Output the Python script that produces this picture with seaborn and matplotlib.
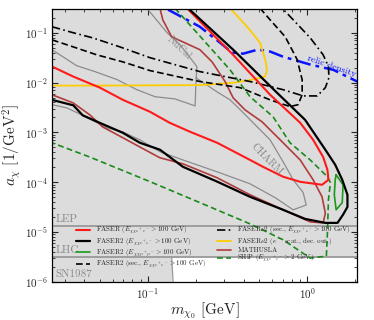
import matplotlib
matplotlib.use("Agg")
import matplotlib.pyplot as plt
import pandas as pd
import seaborn as sns

# excluded regions (grey) and their edges
lep_limit = 1.35e-5
lhc_limit = 3.2e-6
sn1987_m = [0.141, 0.144]
sn1987_a = [3.2e-6, 1.0e-6]

# FASER (red)
faser_m = [0.176, 0.343, 0.585, 0.904, 1.09, 1.26, 1.34, 1.36, 1.24, 0.904, 0.706, 0.528,
           0.438, 0.272, 0.184, 0.137, 0.103, 0.0697, 0.050, 0.034, 0.025]
faser_a = [0.31, 0.036, 5.7e-3, 1.56e-3, 7.1e-4, 3.2e-4, 1.78e-4, 1.12e-4, 8.9e-5, 1.02e-4, 1.29e-4, 2.04e-4,
           2.8e-4, 6.2e-4, 1.03e-3, 1.56e-3, 2.6e-3, 4.5e-3, 7.9e-3, 1.32e-2, 2.1e-2]

# FASER2 (black)
faser2_m = [0.179, 0.343, 0.647, 0.97, 1.30, 1.50, 1.66, 1.79, 1.79, 1.68, 1.55, 1.30, 0.97, 0.706,
            0.438, 0.272, 0.166, 0.119, 0.089, 0.0697, 0.050, 0.039, 0.034, 0.025]
faser2_a = [0.31, 0.0457, 6.24e-3, 1.79e-3, 4.5e-4, 2.24e-4, 1.12e-4, 5.6e-5, 3.2e-5, 2.24e-5, 1.53e-5, 1.53e-5,
            1.84e-5, 2.8e-5, 5.1e-5, 1.03e-4, 2.04e-4, 4.5e-4, 6.2e-4, 9.8e-4, 1.55e-3, 2.2e-3, 3.5e-3, 4.5e-3]

# FASER2 muon channel (green, closed)
faser2mu_m = [1.52, 1.68, 1.66, 1.52, 1.48, 1.50, 1.52]
faser2mu_a = [1.41e-4, 8.9e-5, 3.9e-5, 2.8e-5, 5.6e-5, 1.12e-4, 1.41e-4]

# FASER2 secondary (black dashed)
faser2sec_m = [0.025, 0.034, 0.0478, 0.0697, 0.103, 0.212, 0.38, 0.585, 0.78, 0.877, 0.93, 0.93,
               0.865, 0.728, 0.585, 0.506]
faser2sec_a = [0.072, 0.052, 0.036, 0.026, 0.0174, 0.0105, 7.9e-3, 4.5e-3, 3.3e-3, 3.6e-3, 5.7e-3, 0.0114,
               0.029, 0.083, 0.182, 0.31]

# FASERnu2 secondary (black dash-dot)
fasernusec_m = [0.025, 0.034, 0.045, 0.0667, 0.103, 0.212, 0.438, 0.706, 0.944, 1.156, 1.30, 1.37,
                1.36, 1.26, 1.045, 0.84, 0.697]
fasernusec_a = [0.132, 0.10, 0.079, 0.052, 0.0316, 0.0166, 0.0105, 7.2e-3, 5.4e-3, 5.4e-3, 7.9e-3, 0.0125,
                0.021, 0.036, 0.079, 0.166, 0.31]

# FASERnu2 e- scattering (gold)
fasernuscat_m = [0.025, 0.050, 0.212, 0.343, 0.457, 0.544, 0.56, 0.545, 0.506, 0.42, 0.328]
fasernuscat_a = [8.7e-3, 8.7e-3, 8.9e-3, 9.9e-3, 0.0115, 0.0132, 0.018, 0.029, 0.063, 0.132, 0.31]

# MATHUSLA (brown)
mathusla_m = [0.119, 0.124, 0.141, 0.212, 0.253, 0.305, 0.343, 0.407, 0.521, 0.706, 0.904, 1.09, 1.24,
              1.30, 1.26, 1.045, 0.706, 0.438, 0.272, 0.166, 0.119, 0.089, 0.0697, 0.052, 0.0432,
              0.034, 0.025]
mathusla_a = [0.31, 0.182, 0.083, 0.0457, 0.026, 0.0105, 4.95e-3, 2.84e-3, 1.63e-3, 6.2e-4, 2.8e-4, 1.12e-4,
              5.1e-5, 2.4e-5, 1.53e-5, 1.6e-5, 2.8e-5, 5.6e-5, 1.23e-4, 2.34e-4, 3.1e-4, 5.1e-4, 7.8e-4,
              1.29e-3, 2.25e-3, 3.9e-3, 5.7e-3]

# SHiP (green dashed)
ship_m = [0.148, 0.328, 0.438, 0.611, 0.78, 1.045, 1.34, 1.40, 1.36, 1.34, 1.32, 1.045, 0.706, 0.438,
          0.212, 0.103, 0.0432, 0.025]
ship_a = [0.31, 0.018, 5.2e-3, 2.06e-3, 6.2e-4, 2.8e-4, 1.29e-4, 9.8e-5, 4.5e-5, 9.6e-6, 3.3e-6, 3.0e-6,
          7.0e-6, 1.46e-5, 3.9e-5, 1.03e-4, 3.2e-4, 6.2e-4]

# NuCal and CHARM (grey)
nucal_m = [0.025, 0.0357, 0.0465, 0.0639, 0.0853, 0.111, 0.148, 0.198, 0.20, 0.203, 0.159, 0.132, 0.0986]
nucal_a = [0.0457, 0.0218, 0.0166, 0.0115, 7.2e-3, 5.2e-3, 4.7e-3, 3.4e-3, 9.1e-3, 0.021, 0.0575, 0.10, 0.31]
charm_m = [0.20, 0.272, 0.328, 0.396, 0.486, 0.585, 0.706, 0.817, 0.944, 0.986, 0.817, 0.63, 0.438,
           0.272, 0.166, 0.119, 0.089, 0.0697, 0.0552, 0.039, 0.031, 0.025]
charm_a = [0.0125, 6.5e-3, 4.5e-3, 2.5e-3, 1.29e-3, 7.1e-4, 2.57e-4, 1.12e-4, 6.2e-5, 3.5e-5, 2.8e-5, 4.9e-5,
           9.3e-5, 1.62e-4, 2.8e-4, 4.1e-4, 7.1e-4, 1.02e-3, 1.24e-3, 2.2e-3, 3.1e-3, 3.6e-3]

# relic density (blue dash-dot)
relic_m = [0.134, 0.212, 0.284, 0.337, 0.396, 0.492, 0.585, 0.706, 1.045, 1.46, 2.06]
relic_a = [0.29, 0.132, 0.063, 0.040, 0.038, 0.046, 0.042, 0.033, 0.023, 0.018, 0.0105]

sns.set_theme(style="ticks")
plt.rcParams["font.family"] = ["serif"]
plt.rcParams["font.serif"] = ["cmr10", "DejaVu Serif"]
plt.rcParams["mathtext.fontset"] = "cm"
plt.rcParams["axes.unicode_minus"] = False
plt.rcParams["axes.formatter.use_mathtext"] = True

fig = plt.figure(figsize=(3.74, 3.2), dpi=100)
ax = fig.add_axes([0.139, 0.119, 0.816, 0.853])
ax.set_xscale("log")
ax.set_yscale("log")
ax.set_xlim(0.025, 2.06)
ax.set_ylim(1e-6, 0.30)
ax.set_facecolor("#dcdcdc")

# white allowed strip below LHC, right of SN1987
ax.fill([sn1987_m[0], 3, 3, sn1987_m[1]], [sn1987_a[0], lhc_limit, 1e-7, sn1987_a[1] / 10],
        color="white", zorder=0.5, lw=0)
ax.plot(sn1987_m, sn1987_a, color="#999999", lw=0.9, zorder=1)
ax.axhline(lep_limit, color="#999999", lw=1.3, zorder=1)
ax.axhline(lhc_limit, color="#999999", lw=1.3, zorder=1)

handles = {}


def curve(m, a, color, label=None, lw=1.2, dashes=None, z=2):
    df = pd.DataFrame({"m": m, "a": a})
    sns.lineplot(data=df, x="m", y="a", sort=False, estimator=None, color=color, lw=lw,
                 ax=ax, legend=False, zorder=z)
    line = ax.lines[-1]
    if dashes is not None:
        line.set_dashes(dashes)
    if label is not None:
        line.set_label(label)
        handles[label] = line


curve(nucal_m, nucal_a, "#8c8c8c", lw=0.9)
curve(charm_m, charm_a, "#8c8c8c", lw=0.9)
curve(relic_m, relic_a, "#0a14ff", lw=1.8, dashes=(6, 2, 1.5, 2))

labels = [
    r"FASER ($E_{\chi\chi e^+e^-} > 100$ GeV)",
    r"FASER2 ($E_{\chi\chi e^+e^-} > 100$ GeV)",
    r"FASER2 ($E_{\chi\chi\mu^+\mu^-} > 100$ GeV)",
    r"FASER2 (sec., $E_{\chi\chi e^+e^-} > 100$ GeV)",
    r"FASER$\nu$2 (sec., $E_{\chi\chi e^+e^-} > 100$ GeV)",
    r"FASER$\nu$2 ($e^-$ scat., dec. out.)",
    r"MATHUSLA",
    r"SHiP ($E_{\chi\chi e^+e^-} > 2$ GeV)",
]

curve(fasernuscat_m, fasernuscat_a, "#ffcc00", labels[5], lw=1.3)
curve(mathusla_m, mathusla_a, "#b03c3c", labels[6], lw=1.2)
curve(ship_m, ship_a, "#1a8a1a", labels[7], lw=1.2, dashes=(3.5, 2))
curve(faser2sec_m, faser2sec_a, "black", labels[3], lw=1.2, dashes=(4, 2))
curve(fasernusec_m, fasernusec_a, "black", labels[4], lw=1.2, dashes=(5, 2, 1, 2))
curve(faser2mu_m, faser2mu_a, "#1a9a1a", labels[2], lw=1.2)
curve(faser_m, faser_a, "#ff1a1a", labels[0], lw=1.5)
curve(faser2_m, faser2_a, "black", labels[1], lw=1.6)

ax.legend([handles[l] for l in labels], labels, ncol=2, frameon=False, fontsize=5,
          loc="center", bbox_to_anchor=(0.53, 0.126), handlelength=2.0, handletextpad=0.9,
          columnspacing=1.5, labelspacing=0.0, borderaxespad=0, borderpad=0)

grey_txt = "#8a8a8a"
ax.text(0.0262, 1.45e-5, "LEP", color=grey_txt, fontsize=8, va="bottom", ha="left")
ax.text(0.0262, 3.4e-6, "LHC", color=grey_txt, fontsize=8, va="bottom", ha="left")
ax.text(0.0262, 1.12e-6, "SN1987", color=grey_txt, fontsize=8, va="bottom", ha="left")
ax.text(0.158, 0.05, "NuCal", color=grey_txt, fontsize=7.5, rotation=-43, ha="center", va="center")
ax.text(0.56, 2.9e-4, "CHARM", color=grey_txt, fontsize=7.5, rotation=-45, ha="center", va="center")
ax.text(1.42, 0.0215, "relic density", color="#0a14ff", fontsize=7, rotation=-19,
        ha="center", va="center")

ax.set_xlabel(r"$m_{\chi_0}$ [GeV]", fontsize=11, labelpad=0)
ax.set_ylabel(r"$a_\chi$ [1/GeV$^2$]", fontsize=11, labelpad=1)
ax.tick_params(which="both", direction="in", top=True, right=True, labelsize=8)
ax.tick_params(which="major", length=4, width=0.8, pad=3)
ax.tick_params(which="minor", length=2, width=0.6)
for s in ax.spines.values():
    s.set_linewidth(0.9)
    s.set_color("black")

plt.savefig("out.png", dpi=100)
